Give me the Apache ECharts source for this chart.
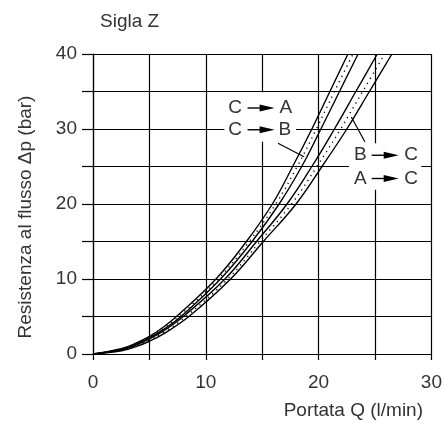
<!DOCTYPE html>
<html>
<head>
<meta charset="utf-8">
<script src="https://cdn.jsdelivr.net/npm/echarts@6/dist/echarts.min.js"></script>
<style>
html, body { margin: 0; padding: 0; background: #fff; }
#main { width: 445px; height: 423px; }
</style>
</head>
<body>
<div id="main"></div>
<script>
// curve points [Q l/min, dp bar]
var leftBandUpper = [[0, 0], [2.5, 0.7], [3.75, 1.4], [5, 2.35], [6.25, 3.6], [7.4, 5], [10.9, 10], [13.6, 15], [15.9, 20], [17.7, 25], [19.4, 30], [21.0, 35], [22.6, 40]];
var leftBandMid = [[0, 0], [2.5, 0.64], [3.75, 1.32], [5, 2.25], [6.25, 3.44], [7.6, 5], [11.1, 10], [13.85, 15], [16.2, 20], [18.1, 25], [19.8, 30], [21.4, 35], [23.05, 40]];
var leftBandLower = [[0, 0], [2.5, 0.58], [3.75, 1.24], [5, 2.15], [6.25, 3.28], [7.8, 5], [11.3, 10], [14.1, 15], [16.5, 20], [18.5, 25], [20.2, 30], [21.85, 35], [23.5, 40]];
var rightBandUpper = [[0, 0], [2.5, 0.52], [3.75, 1.14], [5, 2.0], [6.25, 3.08], [8.0, 5], [11.7, 10], [14.5, 15], [17.2, 20], [19.4, 25], [21.4, 30], [23.3, 35], [25.2, 40]];
var rightBandMid = [[0, 0], [2.5, 0.47], [3.75, 1.05], [5, 1.85], [6.25, 2.88], [8.25, 5], [11.95, 10], [14.8, 15], [17.6, 20], [19.85, 25], [21.95, 30], [23.9, 35], [25.85, 40]];
var rightBandLower = [[0, 0], [2.5, 0.42], [3.75, 0.95], [5, 1.7], [6.25, 2.68], [8.5, 5], [12.2, 10], [15.1, 15], [18.0, 20], [20.3, 25], [22.5, 30], [24.5, 35], [26.5, 40]];

var xTickLabels = [0, 10, 20, 30];
var yTickLabels = [0, 10, 20, 30, 40];

var flowLabels = [['C', 'A'], ['C', 'B'], ['B', 'C'], ['A', 'C']];

var titleText = 'Sigla Z';
var xName = 'Portata Q (l/min)';
var yName = 'Resistenza al flusso \u0394p (bar)';

var FONT = '"Liberation Sans", Arial, sans-serif';
var TXT = '#333';
var FS = 19;

var chart = echarts.init(document.getElementById('main'), null, { renderer: 'canvas' });

function solid(data) {
	return {
		type: 'line', data: data, smooth: 0.4, symbol: 'none',
		lineStyle: { color: '#000', width: 1.4 }, z: 3
	};
}
function dotted(data) {
	return {
		type: 'line', data: data, smooth: 0.4, symbol: 'none',
		lineStyle: { color: '#000', width: 1.4, type: [1.2, 4.5] }, z: 3
	};
}

var option = {
	animation: false,
	backgroundColor: '#fff',
	grid: { left: 93, right: 12, top: 54, bottom: 69 },
	xAxis: {
		type: 'value', min: 0, max: 30, interval: 5,
		axisLine: { lineStyle: { color: '#000', width: 1.2 } },
		axisTick: { show: true, length: 6, lineStyle: { color: '#000', width: 1.2 } },
		axisLabel: {
			margin: 19, fontSize: FS, color: TXT, fontFamily: FONT,
			formatter: function (v) { return xTickLabels.indexOf(v) >= 0 ? String(v) : ''; }
		},
		splitLine: { show: true, lineStyle: { color: '#000', width: 1.2 } }
	},
	yAxis: {
		type: 'value', min: 0, max: 40, interval: 5,
		axisLine: { lineStyle: { color: '#000', width: 1.2 } },
		axisTick: { show: true, length: 11, lineStyle: { color: '#000', width: 1.2 } },
		axisLabel: {
			margin: 16, fontSize: FS, color: TXT, fontFamily: FONT,
			formatter: function (v) { return yTickLabels.indexOf(v) >= 0 ? String(v) : ''; }
		},
		splitLine: { show: true, lineStyle: { color: '#000', width: 1.2 } }
	},
	series: [
		solid(leftBandUpper), dotted(leftBandMid), solid(leftBandLower),
		solid(rightBandUpper), dotted(rightBandMid), solid(rightBandLower)
	]
};
chart.setOption(option);

function px(x, y) { return chart.convertToPixel({ gridIndex: 0 }, [x, y]); }

function txt(x, y, s, align, extra) {
	var o = {
		type: 'text', x: x, y: y, z: 20,
		style: { text: s, fill: TXT, font: FS + 'px ' + FONT, align: align || 'center', verticalAlign: 'middle' }
	};
	if (extra) for (var k in extra) o[k] = extra[k];
	return o;
}

// one "X ──► Y" label, positions in data units
function flowLabel(pair, yVal, xFrom, xArrowStart, xArrowEnd, xTo) {
	var a = px(xFrom, yVal), s = px(xArrowStart, yVal), e = px(xArrowEnd, yVal), b = px(xTo, yVal);
	var head = 15;
	return [
		txt(a[0], a[1], pair[0]),
		{ type: 'line', z: 20, shape: { x1: s[0], y1: s[1], x2: e[0] - head + 2, y2: e[1] }, style: { stroke: '#000', lineWidth: 1.4 } },
		{ type: 'polygon', z: 20, shape: { points: [[e[0] - head, e[1] - 3.5], [e[0], e[1]], [e[0] - head, e[1] + 3.5]] }, style: { fill: '#000' } },
		txt(b[0], b[1], pair[1])
	];
}

function whiteBox(x1, y1, x2, y2) {
	var p = px(x1, y1), q = px(x2, y2);
	return { type: 'rect', z: 10, shape: { x: p[0], y: p[1], width: q[0] - p[0], height: q[1] - p[1] }, style: { fill: '#fff' } };
}

function leader(x1, y1, x2, y2) {
	var p = px(x1, y1), q = px(x2, y2);
	return { type: 'line', z: 20, shape: { x1: p[0], y1: p[1], x2: q[0], y2: q[1] }, style: { stroke: '#000', lineWidth: 1.2 } };
}

var g = [];
g.push(whiteBox(11.65, 34.9, 18.0, 28.3));
g.push(whiteBox(22.7, 28.1, 29.1, 21.9));
g = g.concat(flowLabel(flowLabels[0], 32.8, 12.6, 13.7, 16.1, 17.1));
g = g.concat(flowLabel(flowLabels[1], 29.9, 12.6, 13.7, 16.1, 17.0));
g = g.concat(flowLabel(flowLabels[2], 26.5, 23.7, 24.7, 27.1, 28.2));
g = g.concat(flowLabel(flowLabels[3], 23.4, 23.7, 24.7, 27.1, 28.2));
g.push(leader(16.4, 28.1, 18.7, 26.3));
g.push(leader(22.9, 31.6, 24.1, 28.3));

g.push(txt(100, 22, titleText, 'left'));
g.push(txt(423, 411, xName, 'right'));
g.push(txt(26, 217, yName, 'center', { rotation: Math.PI / 2 }));

chart.setOption({ graphic: g });
</script>
</body>
</html>
